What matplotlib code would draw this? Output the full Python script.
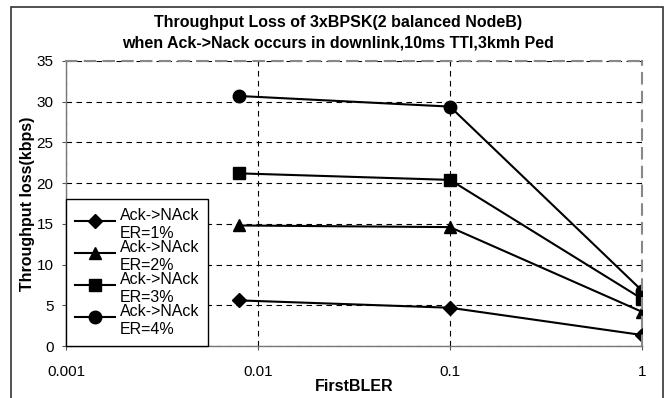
import matplotlib.pyplot as plt
from matplotlib.patches import Rectangle
from matplotlib.legend_handler import HandlerLine2D

plt.rcParams['font.family'] = ['Liberation Sans', 'DejaVu Sans']

# FirstBLER 取值与各误码率下的吞吐量损失
bler = [0.008, 0.1, 1]
loss_er1 = [5.6, 4.7, 1.35]
loss_er2 = [14.8, 14.6, 4.2]
loss_er3 = [21.2, 20.4, 5.8]
loss_er4 = [30.7, 29.4, 6.8]
labels = ['Ack->NAck\nER=1%', 'Ack->NAck\nER=2%', 'Ack->NAck\nER=3%', 'Ack->NAck\nER=4%']
markers = ['D', '^', 's', 'o']
msizes = [7.5, 8.5, 8, 9]


class UpperHandler(HandlerLine2D):
    # 图例符号与两行文字的第一行对齐
    def create_artists(self, legend, orig_handle, xdescent, ydescent, width, height, fontsize, trans):
        return super().create_artists(legend, orig_handle, xdescent, ydescent, width, height * 1.65,
                                      fontsize, trans)


fig = plt.figure(figsize=(6.66, 3.98), dpi=100)
ax = fig.add_axes([66/666, 1-346/398, (642-66)/666, (346-61)/398])

# 外边框
fig.patches.append(Rectangle((11/666, -0.2), (663-11)/666, 1.2-7/398,
                             transform=fig.transFigure, fill=False,
                             edgecolor='#333333', lw=1.2))

for ys, lab, m, ms in zip([loss_er1, loss_er2, loss_er3, loss_er4], labels, markers, msizes):
    ax.plot(bler, ys, color='black', lw=1.5, marker=m, markersize=ms, label=lab)

ax.set_xscale('log')
ax.set_xlim(0.001, 1)
ax.set_ylim(0, 35)
ax.set_yticks(range(0, 36, 5))
ax.set_xticks([0.001, 0.01, 0.1, 1])
ax.set_xticklabels(['0.001', '0.01', '0.1', '1'])
ax.minorticks_off()
ax.tick_params(labelsize=11, direction='out', length=3, color='#555555', pad=6)
ax.tick_params(axis='x', pad=11)

ax.grid(True, which='major', color='black', linestyle=(0, (5, 4)), lw=0.8)
for s in ['top', 'right']:
    ax.spines[s].set_color('#888888')
    ax.spines[s].set_linestyle((0, (5, 4)))
    ax.spines[s].set_linewidth(1.5)
for s in ['left', 'bottom']:
    ax.spines[s].set_color('#777777')
    ax.spines[s].set_linewidth(1.0)

ax.set_xlabel('FirstBLER', fontsize=11.5, fontweight='bold', labelpad=0)
ax.set_ylabel('Throughput loss(kbps)', fontsize=11.5, fontweight='bold', labelpad=1)

fig.text(0.508, 1-23/398, 'Throughput Loss of 3xBPSK(2 balanced NodeB)', ha='center', va='center',
         fontsize=11.5, fontweight='bold')
fig.text(0.508, 1-43/398, 'when Ack->Nack occurs in downlink,10ms TTI,3kmh Ped', ha='center', va='center',
         fontsize=11.5, fontweight='bold')

leg = ax.legend(loc='lower left', borderaxespad=0, fontsize=11.5, handlelength=2.5,
                labelspacing=-0.1, handletextpad=0.3, borderpad=0.55, fancybox=False, framealpha=1,
                handler_map={plt.Line2D: UpperHandler()})
leg.get_frame().set_edgecolor('black')
leg.get_frame().set_linewidth(1.0)
for t in leg.get_texts():
    t.set_linespacing(1.3)

fig.savefig('out.png', dpi=100)
